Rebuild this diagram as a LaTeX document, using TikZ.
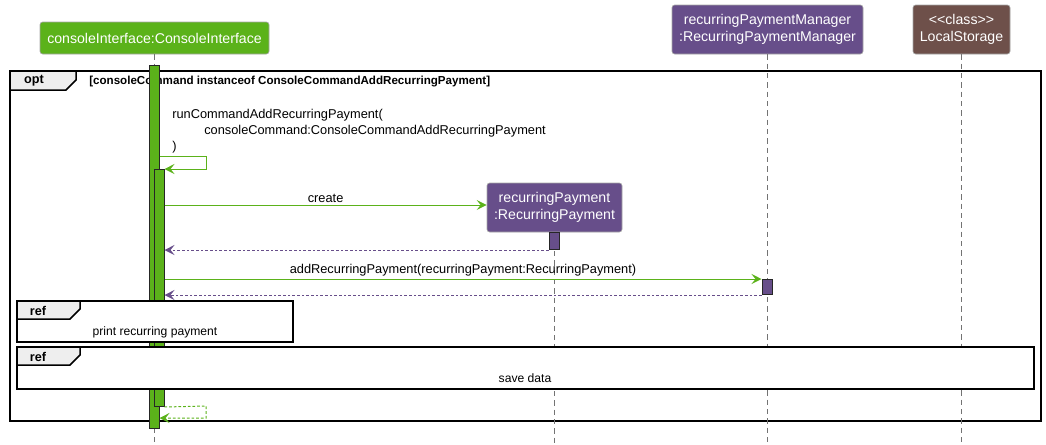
\documentclass[tikz,border=0pt]{standalone}
\usepackage{fontspec}
\setmainfont{Liberation Sans}
\usetikzlibrary{arrows.meta}

\definecolor{ciGreen}{HTML}{5BB21A}
\definecolor{rpPurple}{HTML}{674E8A}
\definecolor{lsBrown}{HTML}{6E504A}
\definecolor{tabGrey}{HTML}{EEEEEE}

\def\px{0.75pt}

\tikzset{
  participant/.style={draw=black!35, line width=0.5pt, rounded corners=2pt, text=white,
    align=center, inner sep=0pt, font=\fontsize{10.6}{12.5}\selectfont},
  lifeline/.style={draw=black!55, line width=\px, dash pattern=on 4pt off 3pt},
  activation/.style={draw=black!85, line width=\px, anchor=north, minimum width=10*\px,
    inner sep=0pt},
  call/.style={draw=ciGreen, line width=\px, -{Stealth[length=7.5pt, width=7.5pt, inset=3pt]}},
  reply/.style={line width=\px, dash pattern=on 2pt off 1.5pt,
    -{Stealth[length=7.5pt, width=7.5pt, inset=3pt]}},
  msglabel/.style={font=\fontsize{9.6}{12}\selectfont, inner sep=1.5pt},
  sdframe/.style={draw=black, line width=1.5*\px},
  frametab/.style={font=\bfseries\fontsize{9.5}{11}\selectfont, inner sep=0pt},
  guard/.style={font=\bfseries\fontsize{8.7}{10}\selectfont, inner sep=0pt},
  reftext/.style={font=\fontsize{9.1}{10}\selectfont, inner sep=0pt},
}

\begin{document}
\begin{tikzpicture}[x=0.75pt, y=-0.75pt]
    \useasboundingbox (0,0) rectangle (1046,444);

    \node[participant, fill=ciGreen, minimum width=229*\px, minimum height=32*\px] (ci) at (154.5,38) {consoleInterface:ConsoleInterface};
    \node[participant, fill=rpPurple, minimum width=191*\px, minimum height=49*\px] (rpm) at (767.5,29.5) {recurringPaymentManager\\:RecurringPaymentManager};
    \node[participant, fill=lsBrown, minimum width=97*\px, minimum height=49*\px] (ls) at (961.5,29.5) {<\kern0pt<class>\kern0pt>\\LocalStorage};

    \draw [sdframe] (10,71) rectangle (1041,421);
    \draw [sdframe, fill=tabGrey] (10,71) -- (76,71) -- (76,80) -- (66,90) -- (10,90) -- cycle;
    \node[frametab] (optlbl) at (34,81) {opt};
    \node[guard, anchor=west] (guard) at (89,82) {[consoleCommand instanceof ConsoleCommandAddRecurringPayment]};

    \draw [lifeline] (ci.south)  -- (ci.south |- 0,444);
    \draw [lifeline] (rpm.south) -- (rpm.south |- 0,444);
    \draw [lifeline] (ls.south)  -- (ls.south |- 0,444);

    \node[participant, fill=rpPurple, minimum width=135*\px, minimum height=49*\px] (rp) at (554.5,207.5) {recurringPayment\\:RecurringPayment};
    \draw [lifeline] (rp.south) -- (rp.south |- 0,444);

    \node[activation, fill=ciGreen, minimum height=363*\px] (act1) at (154,65) {};
    \node[activation, fill=ciGreen, minimum height=237*\px] (act2) at (159,169) {};
    \node[activation, fill=rpPurple, minimum height=17*\px] (act3) at (554,232) {};
    \node[activation, fill=rpPurple, minimum height=15*\px] (act4) at (767,279) {};

    \node[msglabel, anchor=west, align=left, inner sep=0pt] (runtxt) at (172,131) {runCommandAddRecurringPayment(\\\hspace*{24pt}consoleCommand:ConsoleCommandAddRecurringPayment\\)};
    \draw [call] (act1.east |- 0,156) -- (206,156) -- (206,169) -- (act2.north east);

    \draw [call] (act2.east |- 0,205) -- node[msglabel, above] (createtxt) {create} (rp.west |- 0,205);
    \draw [reply, draw=rpPurple] (act3.south west) -- (act2.east |- act3.south);

    \draw [call] (act2.east |- act4.north) -- node[msglabel, above] (addtxt) {addRecurringPayment(recurringPayment:RecurringPayment)} (act4.north west);
    \draw [reply, draw=rpPurple] (act4.south west) -- (act2.east |- act4.south);

    \draw [sdframe, fill=white] (17,301) rectangle (293,342);
    \draw [sdframe, fill=tabGrey] (17,301) -- (80,301) -- (80,309) -- (70,319) -- (17,319) -- cycle;
    \node[frametab] (reflbl1) at (38,311) {ref};
    \node[reftext] (reftxt1) at (155,332) {print recurring payment};

    \draw [sdframe, fill=white] (17,347) rectangle (1034,389);
    \draw [sdframe, fill=tabGrey] (17,347) -- (80,347) -- (80,355) -- (70,365) -- (17,365) -- cycle;
    \node[frametab] (reflbl2) at (38,357) {ref};
    \node[reftext] (reftxt2) at (525,378) {save data};

    \draw [reply, draw=ciGreen] (act2.south east) -- (206,406) -- (206,418) -- (act1.east |- 0,418);
\end{tikzpicture}
\end{document}
